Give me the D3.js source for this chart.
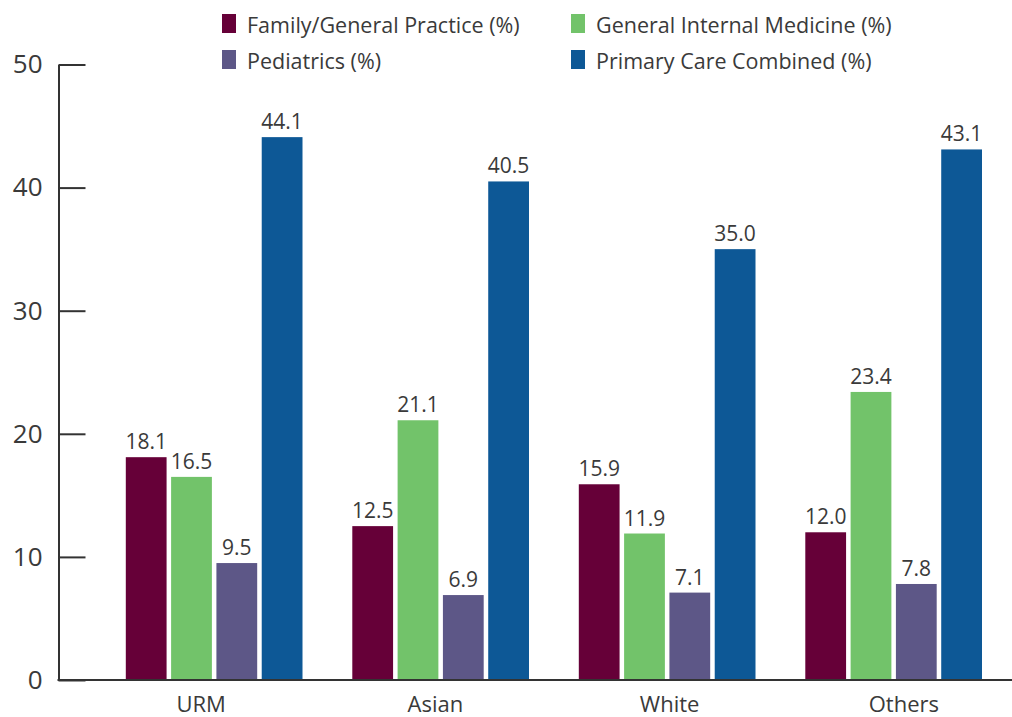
<!DOCTYPE html>
<html>
<head>
<meta charset="utf-8">
<script src="https://cdn.jsdelivr.net/npm/d3@7"></script>
<style>
  body { margin: 0; background: #fff; }
  svg text { font-family: "Open Sans", sans-serif; fill: #3a3a3a; }
</style>
</head>
<body>
<div id="chart"></div>
<script>
const categories = ["URM", "Asian", "White", "Others"];
const seriesNames = ["Family/General Practice (%)", "General Internal Medicine (%)", "Pediatrics (%)", "Primary Care Combined (%)"];
const familyPractice = [18.1, 12.5, 15.9, 12.0];
const internalMedicine = [16.5, 21.1, 11.9, 23.4];
const pediatrics = [9.5, 6.9, 7.1, 7.8];
const primaryCare = [44.1, 40.5, 35.0, 43.1];
const yTicks = [0, 10, 20, 30, 40, 50];

const colors = ["#660038", "#72c36a", "#5d5787", "#0d5896"];
const seriesValues = [familyPractice, internalMedicine, pediatrics, primaryCare];

const width = 1012, height = 717;

const svg = d3.select("#chart")
    .append("svg")
    .attr("width", width)
    .attr("height", height);

// scales
const yScale = d3.scaleLinear()
    .domain([0, 50])
    .range([680, 64.5]);

const x0 = d3.scaleBand()
    .domain(categories)
    .range([101, 1007]);

const x1 = d3.scaleBand()
    .domain(d3.range(seriesNames.length))
    .range([24.8, 201.5])
    .paddingInner(0.1)
    .paddingOuter(0);

// category labels sit on a slightly wider spacing than the bar groups
const xLabel = d3.scaleBand()
    .domain(categories)
    .range([84, 1021]);

// bars
const groups = svg.selectAll("g.group")
    .data(categories)
    .enter()
    .append("g")
    .attr("class", "group")
    .attr("transform", d => `translate(${x0(d)},0)`);

groups.selectAll("rect")
    .data((d, i) => seriesValues.map((s, j) => ({ s: j, v: s[i] })))
    .enter()
    .append("rect")
    .attr("x", d => x1(d.s))
    .attr("y", d => yScale(d.v))
    .attr("width", x1.bandwidth())
    .attr("height", d => yScale(0) - yScale(d.v))
    .attr("fill", d => colors[d.s]);

groups.selectAll("text")
    .data((d, i) => seriesValues.map((s, j) => ({ s: j, v: s[i] })))
    .enter()
    .append("text")
    .attr("x", d => x1(d.s) + x1.bandwidth() / 2)
    .attr("y", d => yScale(d.v) - 8)
    .attr("text-anchor", "middle")
    .style("font-size", "21px")
    .text(d => d.v.toFixed(1));

// y axis
const yAxis = svg.append("g")
    .attr("transform", "translate(58.5,0)")
    .call(d3.axisLeft(yScale).tickValues(yTicks).tickSizeInner(-27).tickSizeOuter(0).tickPadding(16));
yAxis.select(".domain").attr("stroke", "#333").attr("stroke-width", 2);
yAxis.selectAll(".tick line").attr("stroke", "#333").attr("stroke-width", 2);
yAxis.selectAll(".tick text")
    .style("font-size", "26px")
    .attr("fill", "#3a3a3a");

// x axis
const xAxis = svg.append("g")
    .attr("transform", "translate(0,680)")
    .call(d3.axisBottom(xLabel).tickSize(0).tickPadding(16));
xAxis.select(".domain").remove();
xAxis.selectAll(".tick text")
    .style("font-size", "22px")
    .attr("fill", "#3a3a3a");

svg.append("line")
    .attr("x1", 57.5)
    .attr("x2", width)
    .attr("y1", 680)
    .attr("y2", 680)
    .attr("stroke", "#333")
    .attr("stroke-width", 2);

// legend
const legendPos = [[222, 24], [571, 24], [222, 60], [571, 60]];
const legend = svg.selectAll("g.legend")
    .data(seriesNames)
    .enter()
    .append("g")
    .attr("class", "legend")
    .attr("transform", (d, i) => `translate(${legendPos[i][0]},${legendPos[i][1]})`);

legend.append("rect")
    .attr("x", 0)
    .attr("y", -10)
    .attr("width", 14)
    .attr("height", 19)
    .attr("fill", (d, i) => colors[i]);

legend.append("text")
    .attr("x", 25)
    .attr("y", 1)
    .attr("dy", "0.35em")
    .style("font-size", "21.5px")
    .text(d => d);
</script>
</body>
</html>
